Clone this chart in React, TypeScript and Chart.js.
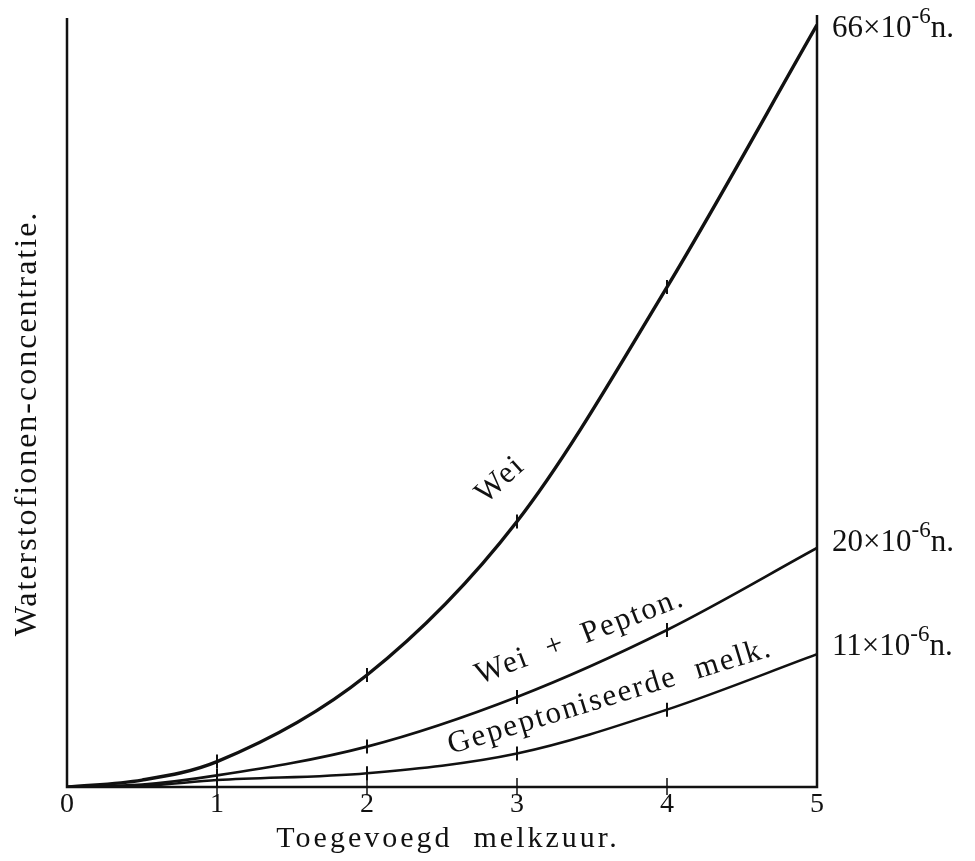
import React, { useEffect, useRef } from "react";
import { Chart, registerables } from "chart.js";
Chart.register(...registerables);

// ---- data ----
const xValues = [0, 0.5, 1, 2, 3, 4, 5];
const weiValues = [0, 0.6, 2.2, 9.7, 23.0, 43.3, 66];
const weiPeptonValues = [0, 0.2, 1.0, 3.5, 7.8, 13.6, 20.7];
const gepeptoniseerdeValues = [0, 0.1, 0.6, 1.2, 2.9, 6.7, 11.5];
const xTickLabels = ["0", "1", "2", "3", "4", "5"];
const seriesNames = ["Wei", "Wei  +  Pepton.", "Gepeptoniseerde  melk."];
const endLabelMantissas = ["66", "20", "11"];
const endLabelExponent = "-6";
const endLabelUnit = "n.";
const xAxisTitle = "Toegevoegd  melkzuur.";
const yAxisTitle = "Waterstofionen-concentratie.";
const xMin = 0;
const xMax = 5;
const yMin = 0;
const yMax = 66.6;

const SERIF = '"Liberation Serif", "DejaVu Serif", serif';
const INK = "#111";

const toPoints = (ys: number[]) => xValues.map((x, i) => ({ x, y: ys[i] }));

// label placement for the series names (in data units + rotation)
const seriesLabelPlacement = [
  { x: 2.89, y: 26.6, angle: -42 },
  { x: 3.42, y: 13.0, angle: -21 },
  { x: 3.62, y: 7.8, angle: -17 },
];
const endLabelDy = [12, 3, 1];

const drawPlugin = {
  id: "paperDecor",
  afterDraw(chart: any) {
    const { ctx, scales } = chart;
    const xs = scales.x;
    const ys = scales.y;
    const left = xs.getPixelForValue(xMin);
    const right = xs.getPixelForValue(xMax);
    const bottom = ys.getPixelForValue(yMin);
    const top = ys.getPixelForValue(yMax);
    ctx.save();
    ctx.strokeStyle = INK;
    ctx.fillStyle = INK;
    ctx.lineCap = "butt";
    // axes frame (left, bottom, right)
    ctx.lineWidth = 2.5;
    ctx.beginPath();
    ctx.moveTo(left, top);
    ctx.lineTo(left, bottom);
    ctx.lineTo(right, bottom);
    ctx.lineTo(right, top - 3);
    ctx.stroke();
    // x ticks
    ctx.lineWidth = 1.5;
    for (let i = 1; i < xTickLabels.length - 1; i++) {
      const px = xs.getPixelForValue(i);
      ctx.beginPath();
      ctx.moveTo(px, bottom - 9);
      ctx.lineTo(px, bottom + 8);
      ctx.stroke();
    }
    // x tick labels
    ctx.font = `28px ${SERIF}`;
    ctx.textAlign = "center";
    ctx.textBaseline = "alphabetic";
    xTickLabels.forEach((t, i) => {
      ctx.fillText(t, xs.getPixelForValue(i), bottom + 25);
    });
    // x title
    (ctx as any).letterSpacing = "3px";
    ctx.font = `30px ${SERIF}`;
    ctx.fillText(xAxisTitle, (left + right) / 2 + 6, bottom + 60);
    // y title
    ctx.save();
    ctx.translate(left - 31, (top + bottom) / 2 + 21);
    ctx.rotate(-Math.PI / 2);
    (ctx as any).letterSpacing = "2px";
    ctx.font = `32px ${SERIF}`;
    ctx.textBaseline = "alphabetic";
    ctx.fillText(yAxisTitle, 0, 0);
    ctx.restore();
    // end labels
    const ends = [weiValues, weiPeptonValues, gepeptoniseerdeValues];
    ctx.textAlign = "left";
    ctx.textBaseline = "alphabetic";
    (ctx as any).letterSpacing = "0px";
    endLabelMantissas.forEach((m, i) => {
      const vals = ends[i];
      const py = ys.getPixelForValue(vals[vals.length - 1]) + endLabelDy[i];
      let px = right + 15;
      ctx.font = `31px ${SERIF}`;
      const main = `${m}×10`;
      ctx.fillText(main, px, py);
      px += ctx.measureText(main).width;
      ctx.font = `23px ${SERIF}`;
      ctx.fillText(endLabelExponent, px, py - 14);
      px += ctx.measureText(endLabelExponent).width;
      ctx.font = `31px ${SERIF}`;
      ctx.fillText(endLabelUnit, px, py);
    });
    // series names along curves
    seriesNames.forEach((name, i) => {
      const p = seriesLabelPlacement[i];
      ctx.save();
      ctx.translate(xs.getPixelForValue(p.x), ys.getPixelForValue(p.y));
      ctx.rotate((p.angle * Math.PI) / 180);
      (ctx as any).letterSpacing = "2px";
      ctx.font = `31px ${SERIF}`;
      ctx.textAlign = "center";
      ctx.textBaseline = "middle";
      ctx.fillText(name, 0, 0);
      ctx.restore();
    });
    ctx.restore();
  },
};

const tickRadius = (c: any) => {
  const x = c.raw?.x;
  return x >= 1 && x <= 4 && Number.isInteger(x) ? 7 : 0;
};

export default function App() {
  const ref = useRef<HTMLCanvasElement | null>(null);
  useEffect(() => {
    if (!ref.current) return;
    const mk = (label: string, ys: number[], w: number) => ({
      label,
      data: toPoints(ys),
      borderColor: INK,
      backgroundColor: INK,
      borderWidth: w,
      cubicInterpolationMode: "monotone" as const,
      pointStyle: "line" as const,
      rotation: 90,
      pointRadius: tickRadius,
      pointBorderWidth: 2,
      pointBorderColor: INK,
      pointHoverRadius: 0,
    });
    const chart = new Chart(ref.current, {
      type: "line",
      data: {
        datasets: [
          mk(seriesNames[0], weiValues, 3.4),
          mk(seriesNames[1], weiPeptonValues, 2.7),
          mk(seriesNames[2], gepeptoniseerdeValues, 2.5),
        ],
      },
      options: {
        animation: false,
        responsive: false,
        events: [],
        layout: { padding: { left: 67, right: 158, top: 18, bottom: 74 } },
        plugins: { legend: { display: false }, tooltip: { enabled: false } },
        scales: {
          x: { type: "linear", min: xMin, max: xMax, display: false },
          y: { type: "linear", min: yMin, max: yMax, display: false },
        },
      },
      plugins: [drawPlugin],
    });
    return () => chart.destroy();
  }, []);
  return (
    <div style={{ position: "fixed", left: 0, top: 0, width: 975, height: 861, background: "#fff" }}>
      <canvas ref={ref} width={975} height={861} style={{ display: "block" }} />
    </div>
  );
}
